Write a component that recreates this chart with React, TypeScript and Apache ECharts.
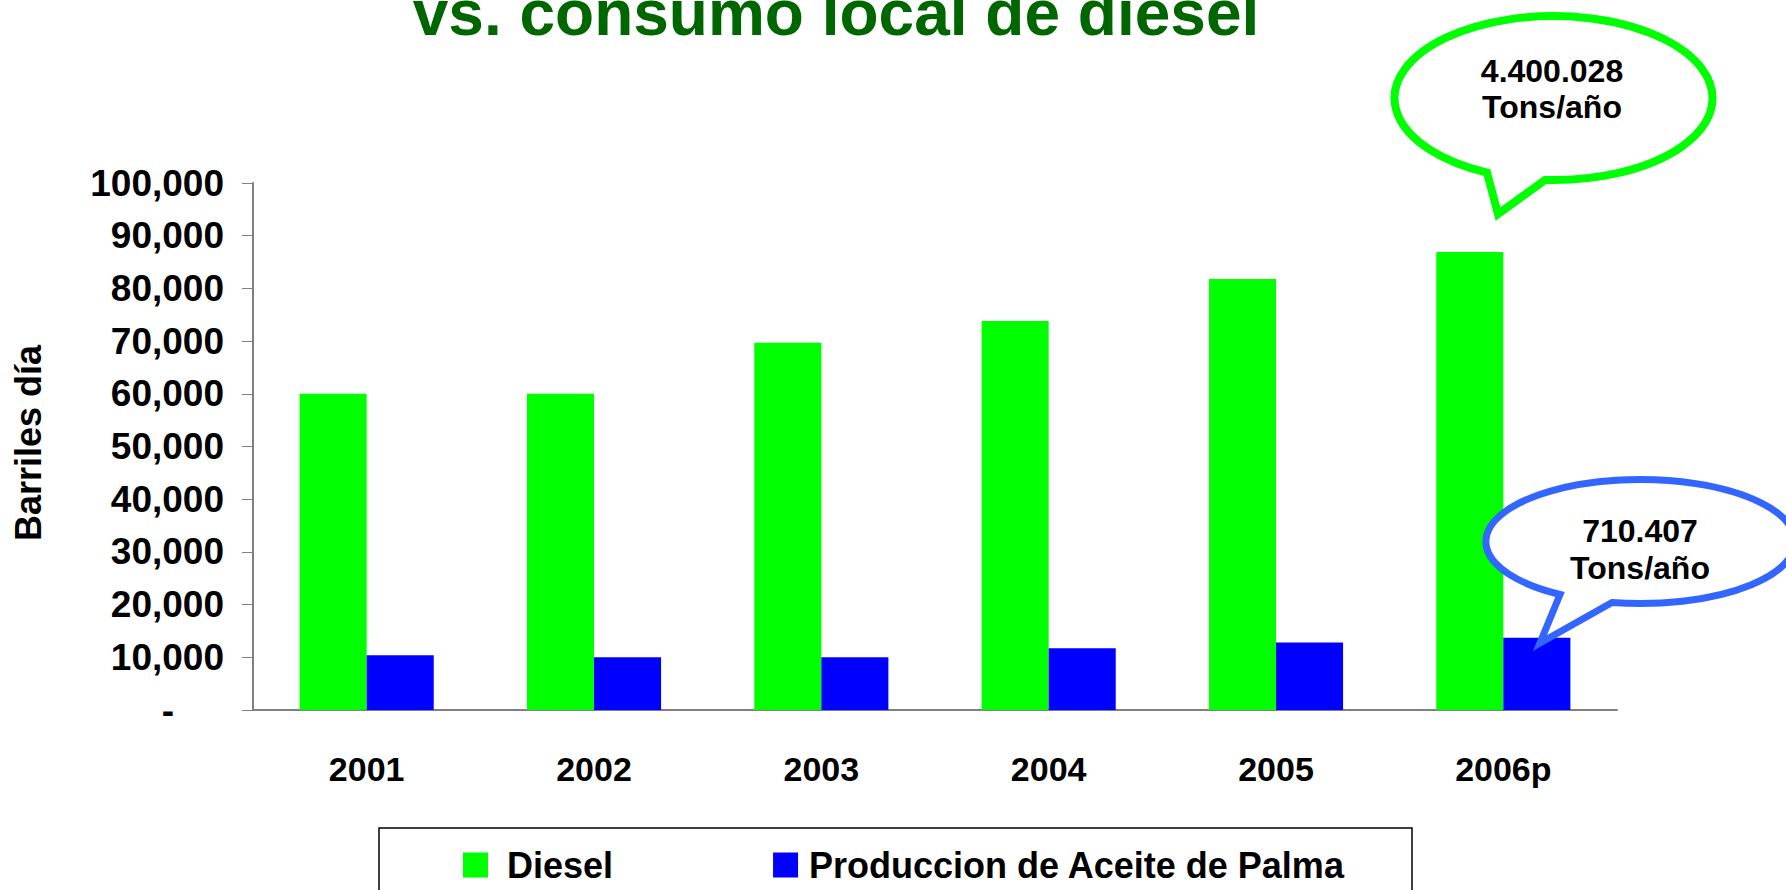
import React, { useEffect, useRef } from "react";
import * as echarts from "echarts";

const categories = ["2001", "2002", "2003", "2004", "2005", "2006p"];
const dieselValues = [60000, 60000, 69700, 73800, 81800, 86900];
const palmValues = [10400, 10000, 10000, 11700, 12800, 13700];
const yTicks = { min: 0, max: 100000, interval: 10000 };
const seriesNames = ["Diesel", "Produccion de Aceite de Palma"];
const titleText = "vs. consumo local de diesel";
const yAxisName = "Barriles día";
const calloutDiesel = ["4.400.028", "Tons/año"];
const calloutPalm = ["710.407", "Tons/año"];

const FONT = "'Liberation Sans', Arial, sans-serif";

echarts.graphic.registerShape(
  "calloutGreen",
  echarts.graphic.extendPath(
    "M 1545 180 A 159 82 0 1 0 1487 172.6 L 1498 214 Z",
    {}
  )
);
echarts.graphic.registerShape(
  "calloutBlue",
  echarts.graphic.extendPath(
    "M 1612 602.5 A 154.5 62 0 1 0 1560 594.5 L 1540 643 Z",
    {}
  )
);

export default function App() {
  const ref = useRef<HTMLDivElement>(null);
  useEffect(() => {
    if (!ref.current) return;
    const chart = echarts.init(ref.current, null, { renderer: "svg" });
    const fmt = (v: number) =>
      v === 0 ? "{z|-}" : v.toLocaleString("en-US");
    chart.setOption({
      animation: false,
      backgroundColor: "#ffffff",
      grid: { left: 253, right: 169, top: 183, bottom: 180, containLabel: false },
      legend: {
        left: 458,
        top: 842,
        itemWidth: 25,
        itemHeight: 25,
        itemGap: 160,
        icon: "rect",
        textStyle: { fontFamily: FONT, fontSize: 36, fontWeight: "bold", color: "#000" },
        data: [
          { name: seriesNames[0], textStyle: { padding: [0, 0, 0, 14] } },
          { name: seriesNames[1], textStyle: { padding: [0, 0, 0, 6] } },
        ],
      },
      xAxis: {
        type: "category",
        data: categories,
        axisLine: { lineStyle: { color: "#808080", width: 2 } },
        axisTick: { length: 12, lineStyle: { color: "#333", width: 1 } },
        axisLabel: { margin: 42, fontFamily: FONT, fontSize: 34, fontWeight: "bold", color: "#000" },
      },
      yAxis: {
        type: "value",
        min: yTicks.min,
        max: yTicks.max,
        interval: yTicks.interval,
        splitLine: { show: false },
        axisLine: { show: true, lineStyle: { color: "#808080", width: 2 } },
        axisTick: { show: true, length: 11, lineStyle: { color: "#808080", width: 1 } },
        axisLabel: {
          margin: 29,
          fontFamily: FONT,
          fontSize: 37,
          fontWeight: "bold",
          color: "#000",
          formatter: fmt,
          rich: { z: { fontFamily: FONT, fontSize: 37, fontWeight: "bold", color: "#000", padding: [0, 50, 0, 0] } },
        },
      },
      series: [
        {
          name: seriesNames[0],
          type: "bar",
          data: dieselValues,
          itemStyle: { color: "#00FF00" },
          barGap: "0%",
          barCategoryGap: "41%",
        },
        {
          name: seriesNames[1],
          type: "bar",
          data: palmValues,
          itemStyle: { color: "#0000FF" },
          barGap: "0%",
          barCategoryGap: "41%",
        },
      ],
      graphic: [
        {
          type: "text",
          x: 836,
          y: 13,
          style: { text: titleText, fontFamily: FONT, fontSize: 64, fontWeight: "bold", fill: "#006600", align: "center", verticalAlign: "middle" },
        },
        {
          type: "text",
          x: 28,
          y: 443,
          rotation: Math.PI / 2,
          style: { text: yAxisName, fontFamily: FONT, fontSize: 36, fontWeight: "bold", fill: "#000", align: "center", verticalAlign: "middle" },
        },
        {
          type: "rect",
          shape: { x: 379, y: 828, width: 1033, height: 80 },
          style: { fill: "none", stroke: "#000", lineWidth: 1.5 },
          z: 0,
        },
        {
          type: "calloutGreen",
          x: 0,
          y: 0,
          style: { fill: "#ffffff", stroke: "#00FF00", lineWidth: 8 },
          z: 10,
        },
        {
          type: "text",
          x: 1552,
          y: 71,
          z: 11,
          style: { text: calloutDiesel[0], fontFamily: FONT, fontSize: 32, fontWeight: "bold", fill: "#000", align: "center", verticalAlign: "middle" },
        },
        {
          type: "text",
          x: 1552,
          y: 107,
          z: 11,
          style: { text: calloutDiesel[1], fontFamily: FONT, fontSize: 32, fontWeight: "bold", fill: "#000", align: "center", verticalAlign: "middle" },
        },
        {
          type: "calloutBlue",
          x: 0,
          y: 0,
          style: { fill: "#ffffff", stroke: "#3366FF", lineWidth: 7 },
          z: 10,
        },
        {
          type: "text",
          x: 1640,
          y: 531,
          z: 11,
          style: { text: calloutPalm[0], fontFamily: FONT, fontSize: 32, fontWeight: "bold", fill: "#000", align: "center", verticalAlign: "middle" },
        },
        {
          type: "text",
          x: 1640,
          y: 568,
          z: 11,
          style: { text: calloutPalm[1], fontFamily: FONT, fontSize: 32, fontWeight: "bold", fill: "#000", align: "center", verticalAlign: "middle" },
        },
      ],
    });
    return () => chart.dispose();
  }, []);
  return <div ref={ref} style={{ width: 1786, height: 890, position: "absolute", left: 0, top: 0 }} />;
}
